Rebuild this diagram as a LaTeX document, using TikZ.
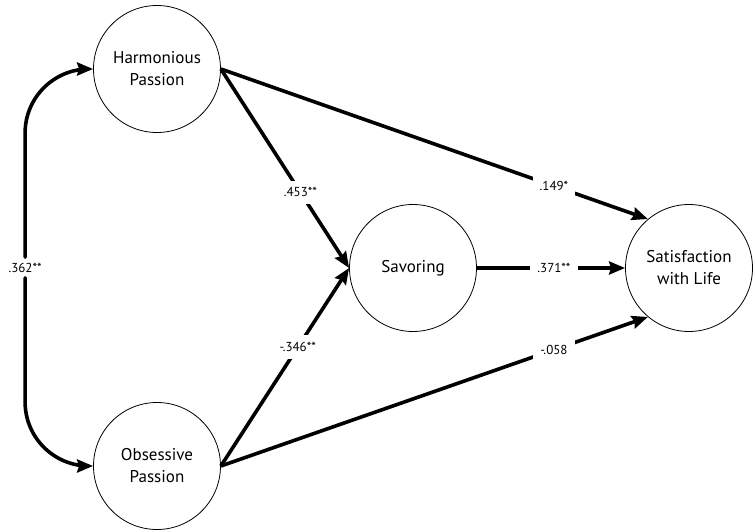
\documentclass[tikz,border=0pt]{standalone}
\usepackage{fontspec}
\setmainfont{PT Sans}
\usetikzlibrary{arrows.meta,positioning}
\tikzstyle{var}=[draw,circle,line width=.8pt,minimum size=127pt,inner sep=0pt,
  align=center,font=\fontsize{17}{22}\selectfont]
\tikzstyle{path}=[line width=3.6pt]

\begin{document}
\begin{tikzpicture}[x=1pt,y=-1pt,>={Stealth[length=16pt,width=13pt,inset=2pt]}]
  \tikzstyle{lbl}=[fill=white,inner sep=7pt,font=\fontsize{13}{15}\selectfont]
  \useasboundingbox (0,0) rectangle (753,532);

  \node[var] (hp) at (157,69) {Harmonious\\Passion};
  \node[var] (op) at (157,466) {Obsessive\\Passion};
  \node[var] (sav) at (413,268) {Savoring};
  \node[var] (swl) at (689,268) {Satisfaction\\with Life};

  \draw[path,<->,rounded corners=64pt] (hp.west) -- ++(-68,0) |- (op.west)
    node[lbl,pos=.25,inner sep=4pt] {.362**};

  \draw[path,->] (hp.east) -- (sav.west) node[lbl,pos=.62] {.453**};
  \draw[path,->] (op.east) -- (sav.west) node[lbl,pos=.6] {-.346**};
  \draw[path,->] (hp.east) -- (swl.130) node[lbl,pos=.78] {.149*};
  \draw[path,->] (op.east) -- (swl.230) node[lbl,pos=.78] {-.058};
  \draw[path,->] (sav) -- (swl) node[lbl,pos=.52] {.371**};
\end{tikzpicture}
\end{document}
